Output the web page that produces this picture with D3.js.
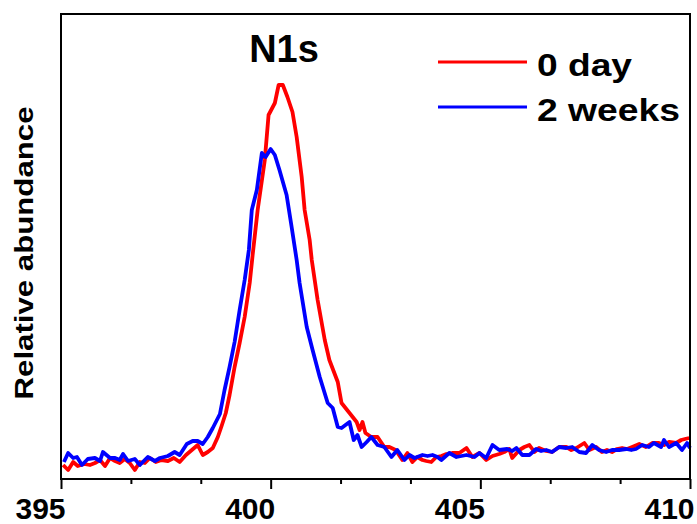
<!DOCTYPE html>
<html>
<head>
<meta charset="utf-8">
<script src="https://cdn.jsdelivr.net/npm/d3@7"></script>
<style>
  body { margin: 0; background: #fff; }
  text { font-family: Arial, "Liberation Sans", sans-serif; font-weight: bold; }
</style>
</head>
<body>
<div id="chart"></div>
<script>
// binding energy (eV) / relative abundance (a.u.)
const day0 = [
  [395.05,14],[395.17,9],[395.29,17],[395.40,13],[395.55,15],[395.69,14],[395.81,16],[395.93,19],
  [396.05,13],[396.17,21],[396.29,18],[396.40,16],[396.52,20],[396.64,16],[396.76,9],[396.88,17],
  [397.00,16],[397.12,21],[397.26,17],[397.40,19],[397.55,18],[397.69,21],[397.83,17],[397.98,24],
  [398.12,29],[398.26,34],[398.38,24],[398.50,27],[398.62,31],[398.74,42],[398.83,53],[398.93,66],
  [399.02,84],[399.14,112],[399.26,136],[399.38,162],[399.50,196],[399.57,224],[399.69,269],[399.86,319],
  [399.95,364],[400.10,376],[400.19,394],[400.29,394],[400.40,382],[400.52,367],[400.62,342],[400.74,302],
  [400.81,269],[400.93,239],[400.98,219],[401.12,179],[401.29,139],[401.40,119],[401.60,97],[401.69,76],
  [401.88,66],[402.05,57],[402.12,49],[402.19,57],[402.26,46],[402.40,42],[402.55,42],[402.71,32],
  [402.83,32],[402.98,29],[403.14,19],[403.26,26],[403.38,17],[403.50,22],[403.62,19],[403.71,18],
  [403.83,17],[403.95,22],[404.07,23],[404.19,25],[404.33,26],[404.50,26],[404.67,31],[404.81,22],
  [404.98,26],[405.14,19],[405.29,23],[405.45,25],[405.57,27],[405.69,30],[405.76,21],[405.93,29],
  [406.05,32],[406.17,34],[406.29,27],[406.40,31],[406.57,28],[406.71,27],[406.88,32],[407.05,32],
  [407.17,29],[407.29,31],[407.48,36],[407.60,29],[407.76,32],[407.90,27],[408.02,29],[408.14,27],
  [408.26,30],[408.38,31],[408.50,30],[408.62,32],[408.79,35],[408.95,32],[409.10,36],[409.26,36],
  [409.38,34],[409.50,37],[409.67,36],[409.79,39],[409.88,40],[409.98,41]
];

const weeks2 = [
  [395.07,17],[395.17,26],[395.29,21],[395.38,22],[395.50,14],[395.64,20],[395.81,21],[395.93,18],
  [396.00,27],[396.17,21],[396.29,21],[396.40,19],[396.48,25],[396.60,18],[396.76,20],[396.88,14],
  [397.07,22],[397.24,18],[397.36,21],[397.55,23],[397.71,27],[397.83,24],[398.00,35],[398.14,38],
  [398.26,38],[398.38,35],[398.50,42],[398.62,51],[398.79,65],[398.90,89],[399.02,112],[399.14,137],
  [399.26,169],[399.38,199],[399.48,229],[399.55,269],[399.67,289],[399.79,326],[399.88,322],[400.00,330],
  [400.10,324],[400.21,309],[400.38,284],[400.50,252],[400.62,219],[400.69,196],[400.86,152],[401.00,129],
  [401.17,102],[401.36,76],[401.48,71],[401.60,52],[401.69,51],[401.88,57],[401.98,39],[402.07,44],
  [402.17,32],[402.29,37],[402.40,42],[402.55,34],[402.71,32],[402.88,22],[403.02,29],[403.19,19],
  [403.31,24],[403.43,21],[403.62,24],[403.74,23],[403.86,24],[403.98,22],[404.07,19],[404.26,26],
  [404.43,22],[404.55,23],[404.67,24],[404.86,22],[404.98,26],[405.14,21],[405.29,34],[405.45,29],
  [405.64,30],[405.76,28],[405.86,31],[406.00,24],[406.17,24],[406.33,30],[406.45,28],[406.57,29],
  [406.71,27],[406.88,32],[407.05,31],[407.19,32],[407.36,27],[407.52,26],[407.67,34],[407.83,29],
  [408.00,27],[408.14,29],[408.31,29],[408.48,30],[408.60,29],[408.71,30],[408.86,34],[409.02,32],
  [409.14,36],[409.31,32],[409.38,39],[409.50,32],[409.67,36],[409.81,29],[409.93,36],[410.00,31]
];

const seriesNames = ['0 day', '2 weeks'];
const seriesColors = ['#ff0000', '#0000ff'];
const majorTicks = [395, 400, 405, 410];

const W = 697, H = 524;
const margin = { top: 14, right: 7, bottom: 45, left: 61 };
const width = W - margin.left - margin.right;
const height = H - margin.top - margin.bottom;

const svg = d3.select('#chart').append('svg')
  .attr('width', W)
  .attr('height', H);

const g = svg.append('g')
  .attr('transform', `translate(${margin.left},${margin.top})`);

const x = d3.scaleLinear().domain([395, 410]).range([0, width]);
const y = d3.scaleLinear().domain([0, height]).range([height, 0]);

const line = d3.line()
  .x(d => x(d[0]))
  .y(d => y(d[1]));

// minor ticks every 5/3 eV
const minorTicks = d3.range(0, 10).map(i => 395 + i * 5 / 3).filter(v => v <= 410.01 && !majorTicks.includes(Math.round(v * 1000) / 1000));

g.append('g')
  .attr('class', 'x-minor')
  .attr('transform', `translate(0,${height})`)
  .call(d3.axisBottom(x).tickValues(minorTicks).tickSize(5).tickFormat(''))
  .call(a => a.select('.domain').remove())
  .call(a => a.selectAll('line').attr('stroke', '#000').attr('stroke-width', 2));

g.append('g')
  .attr('class', 'x-axis')
  .attr('transform', `translate(0,${height})`)
  .call(d3.axisBottom(x).tickValues(majorTicks).tickSize(10).tickFormat(d3.format('d')))
  .call(a => a.select('.domain').remove())
  .call(a => a.selectAll('line').attr('stroke', '#000').attr('stroke-width', 2))
  .call(a => a.selectAll('text')
    .attr('y', 40)
    .attr('dy', 0)
    .attr('dx', -21)
    .attr('fill', '#000')
    .style('font-size', '30px')
    .style('font-family', 'Arial, "Liberation Sans", sans-serif')
    .style('font-weight', 'bold'));

[day0, weeks2].forEach((s, i) => {
  g.append('path')
    .datum(s)
    .attr('fill', 'none')
    .attr('stroke', seriesColors[i])
    .attr('stroke-width', 3.8)
    .attr('stroke-linejoin', 'round')
    .attr('d', line);
});

// frame
g.append('rect')
  .attr('width', width)
  .attr('height', height)
  .attr('fill', 'none')
  .attr('stroke', '#000')
  .attr('stroke-width', 2);

// title
g.append('text')
  .attr('x', 284 - margin.left)
  .attr('y', 62 - margin.top)
  .attr('text-anchor', 'middle')
  .style('font-size', '38px')
  .text('N1s');

// y label
svg.append('text')
  .attr('transform', 'translate(33,253) rotate(-90)')
  .attr('text-anchor', 'middle')
  .attr('textLength', 293)
  .attr('lengthAdjust', 'spacingAndGlyphs')
  .style('font-size', '25px')
  .text('Relative abundance');

// legend
const legendW = [95, 143];
seriesNames.forEach((name, i) => {
  const ly = 62 + i * 45;
  svg.append('line')
    .attr('x1', 438).attr('x2', 527)
    .attr('y1', ly).attr('y2', ly)
    .attr('stroke', seriesColors[i])
    .attr('stroke-width', 3);
  svg.append('text')
    .attr('x', 537)
    .attr('y', ly + 14)
    .attr('textLength', legendW[i])
    .attr('lengthAdjust', 'spacingAndGlyphs')
    .style('font-size', '32px')
    .text(name);
});
</script>
</body>
</html>
